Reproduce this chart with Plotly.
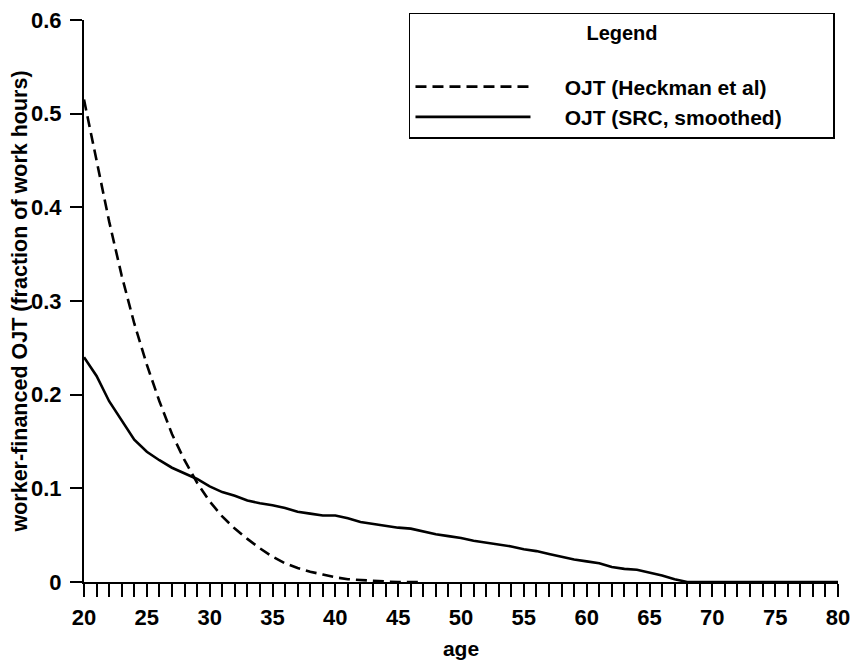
import plotly.graph_objects as go

age_heckman = list(range(20, 48))
ojt_heckman = [0.515, 0.450, 0.385, 0.327, 0.276, 0.232, 0.193, 0.158, 0.130, 0.106,
               0.086, 0.070, 0.057, 0.046, 0.036, 0.027, 0.020, 0.015, 0.011, 0.008,
               0.005, 0.003, 0.002, 0.001, 0.0005, 0.0, 0.0, 0.0]

age_src = list(range(20, 81))
ojt_src = [0.240, 0.220, 0.193, 0.172, 0.152, 0.139, 0.130, 0.122, 0.116, 0.110,
           0.102, 0.096, 0.092, 0.087, 0.084, 0.082, 0.079, 0.075, 0.073, 0.071,
           0.071, 0.068, 0.064, 0.062, 0.060, 0.058, 0.057, 0.054, 0.051, 0.049,
           0.047, 0.044, 0.042, 0.040, 0.038, 0.035, 0.033, 0.030, 0.027, 0.024,
           0.022, 0.020, 0.016, 0.014, 0.013, 0.010, 0.007, 0.003, 0.0, 0.0,
           0.0, 0.0, 0.0, 0.0, 0.0, 0.0, 0.0, 0.0, 0.0, 0.0, 0.0]

x_ticks = [20, 25, 30, 35, 40, 45, 50, 55, 60, 65, 70, 75, 80]
y_ticks = [0, 0.1, 0.2, 0.3, 0.4, 0.5, 0.6]

FONT = "Liberation Sans"
NB = "\u00a0"

fig = go.Figure()
fig.add_trace(go.Scatter(x=age_heckman, y=ojt_heckman, mode="lines",
                         name=NB * 5 + "OJT (Heckman et al)" + NB * 8,
                         line=dict(color="black", width=2.6, dash="11px,6px")))
fig.add_trace(go.Scatter(x=age_src, y=ojt_src, mode="lines",
                         name=NB * 5 + "OJT (SRC, smoothed)" + NB * 8,
                         line=dict(color="black", width=2.6)))

fig.update_layout(
    width=852, height=654,
    margin=dict(l=76, r=22, t=12, b=80, autoexpand=False),
    paper_bgcolor="white", plot_bgcolor="white",
    font=dict(family=FONT, size=21, color="black", weight="bold"),
    showlegend=True,
    legend=dict(
        x=0.996, xanchor="right", y=1.0125, yanchor="top",
        bordercolor="black", borderwidth=1.5, bgcolor="white",
        itemwidth=115,
        title=dict(text="Legend<br>", side="top center", font=dict(size=20, weight="bold")),
        font=dict(size=21, weight="bold"),
        tracegroupgap=0,
    ),
    xaxis=dict(
        range=[20, 80], tickmode="array", tickvals=x_ticks, automargin=False,
        ticks="outside", ticklen=13, tickwidth=1.5, tickcolor="black",
        minor=dict(dtick=1, ticks="outside", ticklen=13, tickwidth=1.5, tickcolor="black"),
        showline=True, linecolor="black", linewidth=2,
        showgrid=False, zeroline=False, ticklabeloverflow="allow",
        ticklabelstandoff=2, tickfont=dict(size=22, weight="bold"),
        title=dict(text="age", standoff=12, font=dict(size=21, weight="bold")),
    ),
    yaxis=dict(
        range=[0, 0.6], tickmode="array", tickvals=y_ticks, automargin=False,
        ticks="outside", ticklen=12, tickwidth=1.5, tickcolor="black",
        showline=True, linecolor="black", linewidth=2,
        showgrid=False, zeroline=False, ticklabeloverflow="allow",
        ticklabelstandoff=4, tickfont=dict(size=22, weight="bold"),
        title=dict(text="worker-financed OJT (fraction of work hours)" + NB * 13, standoff=12,
                   font=dict(size=21.5, weight="bold")),
    ),
)

fig.write_html("out.html")
